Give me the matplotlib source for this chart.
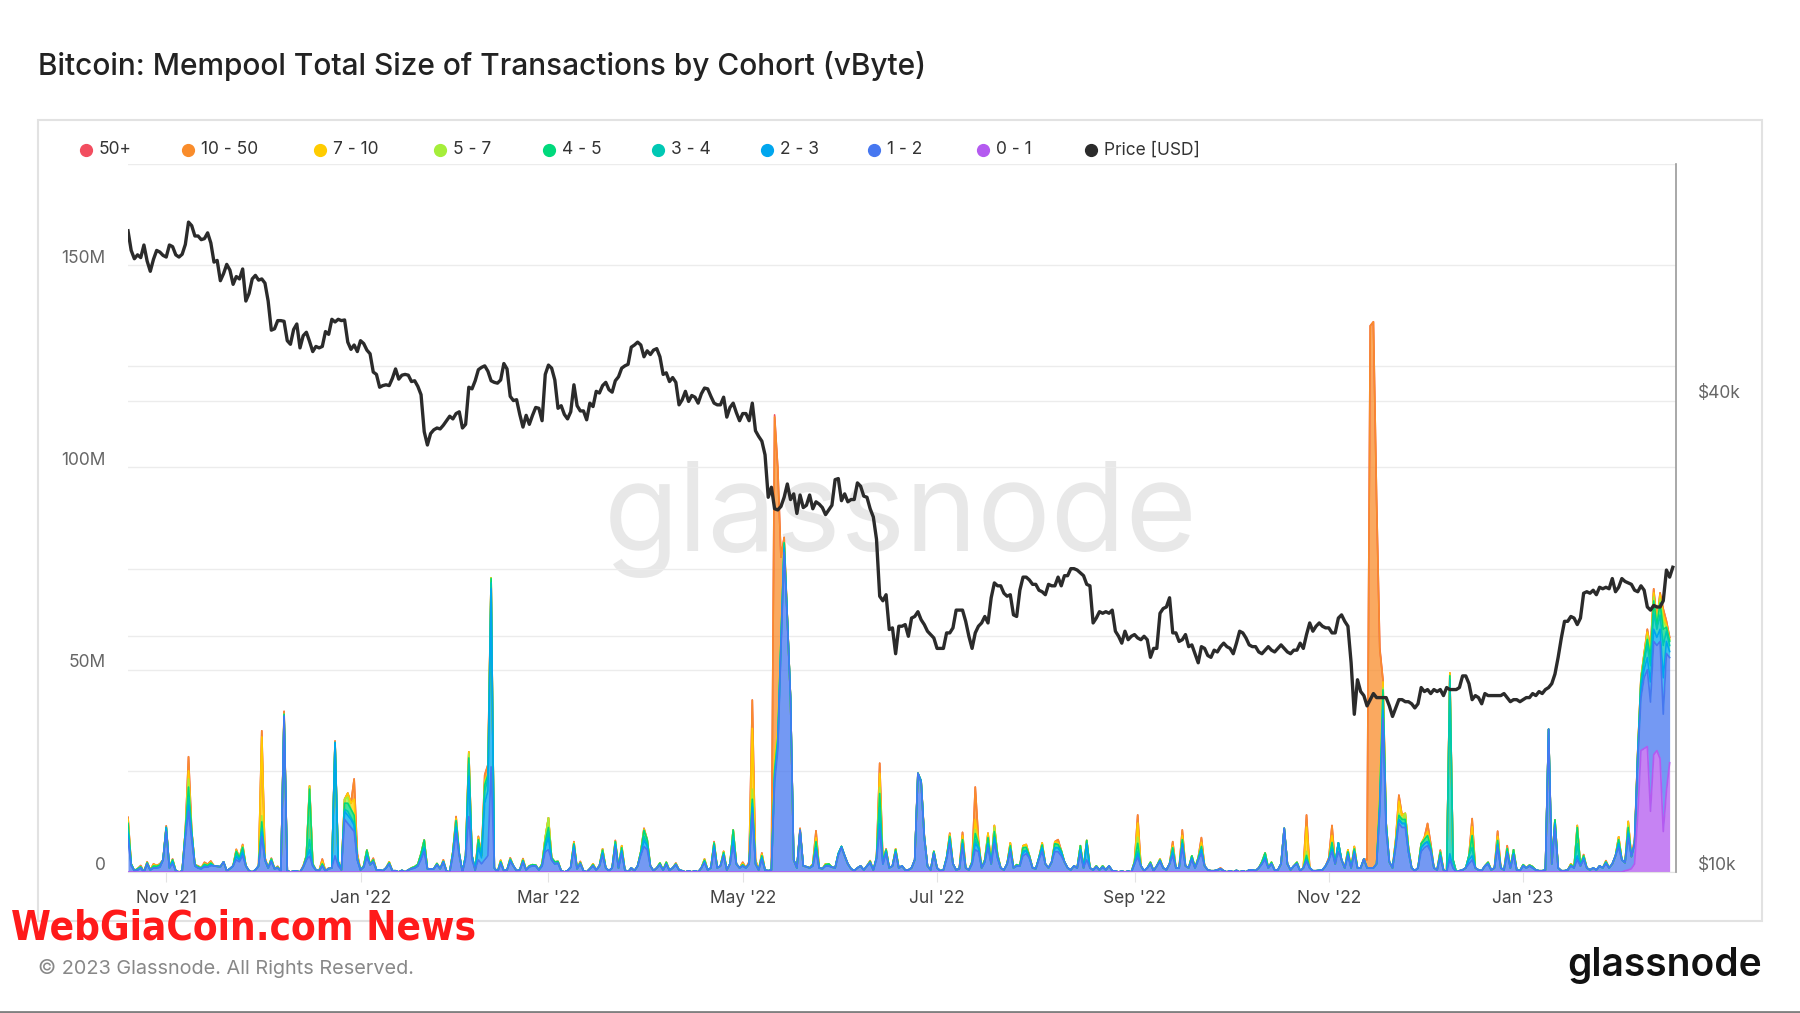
import numpy as np
import pandas as pd
import matplotlib
matplotlib.use('Agg')
import matplotlib.pyplot as plt
import matplotlib.dates as mdates
import matplotlib.transforms as mtrans
from matplotlib.lines import Line2D
from matplotlib.patches import Rectangle

plt.rcParams['font.family'] = ['Inter', 'DejaVu Sans']

# ---------------- price, USD thousands, daily closes ----------------
p_2021_10 = [65.9, 62.2, 60.7, 61.4, 60.9, 63.2, 60.3, 58.5, 60.6, 62.2, 61.9, 61.3]  # from Oct 20
p_2021_11 = [61.0, 63.2, 62.9, 61.4, 61.0, 61.5, 63.3, 67.6, 66.9, 64.9, 64.9, 64.2, 64.4, 65.5, 63.6,
             60.1, 60.4, 56.9, 58.1, 59.7, 58.7, 56.3, 57.6, 57.2, 58.9, 53.6, 54.8, 57.2, 57.8, 57.0]
p_2021_12 = [57.2, 56.5, 53.6, 49.2, 49.4, 50.6, 50.6, 50.5, 47.7, 47.2, 49.3, 50.1, 46.7, 48.4, 48.9,
             47.6, 46.2, 46.9, 46.7, 46.9, 49.0, 48.6, 50.8, 50.4, 50.8, 50.6, 50.7, 47.5, 46.5, 47.1, 46.2]
p_2022_01 = [47.7, 47.3, 46.4, 45.9, 43.5, 43.2, 41.6, 41.8, 41.9, 41.8, 42.7, 43.9, 42.6, 43.1, 43.2,
             43.1, 42.3, 42.4, 41.7, 40.7, 36.5, 35.1, 36.3, 36.7, 36.9, 36.8, 37.2, 37.7, 38.2, 37.9, 38.5]
p_2022_02 = [38.7, 36.9, 37.3, 41.6, 41.4, 42.4, 43.8, 44.1, 44.3, 43.6, 42.4, 42.2, 42.1, 42.5,
             44.6, 43.9, 40.5, 40.0, 40.1, 38.4, 37.0, 38.3, 37.3, 38.3, 39.2, 39.1, 37.7, 43.2]
p_2022_03 = [44.4, 44.0, 42.5, 39.1, 39.4, 38.4, 37.9, 38.7, 41.9, 39.4, 38.8, 38.8, 37.8, 39.7, 39.3,
             41.1, 40.9, 41.8, 42.2, 41.3, 41.0, 42.4, 42.9, 44.0, 44.3, 44.5, 46.8, 47.1, 47.5, 47.1, 45.5]
p_2022_04 = [46.3, 45.8, 46.4, 46.6, 45.5, 43.2, 43.4, 42.3, 42.8, 42.2, 39.5, 40.1, 41.1, 39.9, 40.6,
             40.4, 39.7, 40.8, 41.5, 41.4, 40.5, 39.7, 39.5, 39.5, 40.4, 38.1, 39.2, 39.7, 38.6, 37.7]
p_2022_05 = [38.5, 38.5, 37.7, 39.7, 36.6, 36.0, 35.5, 34.1, 30.1, 31.0, 29.1, 29.0, 29.3, 30.1, 31.3,
             29.9, 30.4, 28.7, 30.3, 29.2, 29.4, 30.3, 29.1, 29.7, 29.5, 29.2, 28.6, 29.0, 29.4, 31.7, 31.8]
p_2022_06 = [29.8, 30.4, 29.7, 29.9, 29.9, 31.4, 31.1, 30.2, 30.1, 29.1, 28.4, 26.6, 22.5, 22.2, 22.6,
             20.4, 20.5, 19.0, 20.6, 20.6, 20.7, 20.0, 21.1, 21.2, 21.5, 21.0, 20.7, 20.3, 20.1, 19.9]
p_2022_07 = [19.3, 19.3, 19.3, 20.2, 20.2, 20.5, 21.6, 21.6, 21.6, 20.9, 20.0, 19.3, 20.2, 20.6, 20.8,
             21.2, 20.8, 22.4, 23.4, 23.2, 23.2, 22.7, 22.5, 22.6, 21.3, 21.2, 22.9, 23.8, 23.8, 23.6, 23.3]
p_2022_08 = [23.3, 22.9, 22.8, 22.6, 23.3, 23.2, 23.2, 23.8, 23.2, 23.9, 23.9, 24.4, 24.4, 24.3, 24.1,
             23.9, 23.3, 23.2, 20.8, 21.1, 21.5, 21.4, 21.5, 21.4, 21.6, 20.3, 20.0, 19.6, 20.3, 19.8, 20.0]
p_2022_09 = [20.1, 19.9, 19.8, 20.0, 19.8, 18.8, 19.3, 19.3, 21.4, 21.7, 21.8, 22.4, 20.2, 20.2, 19.7,
             19.8, 20.1, 19.4, 19.5, 19.0, 18.5, 19.4, 19.3, 18.9, 18.8, 19.2, 19.1, 19.4, 19.6, 19.4]
p_2022_10 = [19.3, 19.0, 19.6, 20.3, 20.2, 19.9, 19.5, 19.4, 19.4, 19.1, 19.0, 19.2, 19.4, 19.2, 19.1,
             19.3, 19.5, 19.3, 19.1, 19.0, 19.2, 19.2, 19.6, 19.3, 20.1, 20.8, 20.3, 20.6, 20.8, 20.6, 20.5]
p_2022_11 = [20.5, 20.2, 20.2, 21.1, 21.3, 20.9, 20.6, 18.5, 15.9, 17.6, 17.0, 16.8, 16.3, 16.6, 16.9,
             16.7, 16.7, 16.7, 16.7, 16.3, 15.8, 16.2, 16.6, 16.6, 16.5, 16.5, 16.4, 16.2, 16.4, 17.2]
p_2022_12 = [17.0, 17.1, 16.9, 17.1, 17.0, 17.1, 16.8, 17.2, 17.1, 17.1, 17.1, 17.2, 17.8, 17.8, 17.4,
             16.6, 16.8, 16.7, 16.4, 16.9, 16.8, 16.8, 16.8, 16.8, 16.8, 16.9, 16.7, 16.5, 16.6, 16.6, 16.5]
p_2023_01 = [16.6, 16.7, 16.7, 16.9, 16.8, 17.0, 16.9, 17.1, 17.2, 17.4, 17.9, 18.8, 19.9, 20.9, 20.9,
             21.2, 21.1, 20.7, 21.1, 22.7, 22.8, 22.7, 22.9, 22.6, 23.1, 23.0, 23.1, 23.0, 23.7, 22.8, 23.1]
p_2023_02 = [23.7, 23.5, 23.4, 23.3, 22.9, 22.8, 23.2, 22.9, 21.8, 21.6, 21.9, 21.8, 21.8, 22.2,
             24.3, 23.8, 24.5]

price_months = [('2021-10-20', p_2021_10), ('2021-11-01', p_2021_11), ('2021-12-01', p_2021_12),
                ('2022-01-01', p_2022_01), ('2022-02-01', p_2022_02), ('2022-03-01', p_2022_03),
                ('2022-04-01', p_2022_04), ('2022-05-01', p_2022_05), ('2022-06-01', p_2022_06),
                ('2022-07-01', p_2022_07), ('2022-08-01', p_2022_08), ('2022-09-01', p_2022_09),
                ('2022-10-01', p_2022_10), ('2022-11-01', p_2022_11), ('2022-12-01', p_2022_12),
                ('2023-01-01', p_2023_01), ('2023-02-01', p_2023_02)]

# ---------------- mempool size by cohort, M vByte ----------------
# keys = days after 2021-11-01, days not listed are ~0
c_0_1 = {458: 0.3, 459: 0.5, 460: 0.8, 461: 2, 462: 14, 463: 30, 464: 30.5, 465: 31, 466: 15, 467: 29,
         468: 30, 469: 28, 470: 10, 471: 20, 472: 27}
c_1_2 = {-12: 8, -11: 1.5, -10: 0.3, -9: 0.5, -8: 1, -6: 2, -5: 0.5, -4: 1, -3: 1, -2: 1.2, -1: 3, 0: 10,
         1: 1, 2: 2, 3: 0.3, 5: 0.2, 6: 8, 7: 15, 8: 8, 9: 1.5, 10: 1, 11: 0.8, 12: 1.2, 13: 1.2, 14: 1.5,
         15: 1.5, 16: 1.4, 17: 1.3, 18: 2.5, 19: 0.3, 20: 0.8, 21: 1.5, 22: 3, 23: 2.5, 24: 4, 25: 1.5,
         26: 0.3, 28: 0.5, 29: 1.5, 30: 8.7, 31: 3, 32: 1, 33: 2.5, 34: 0.8, 35: 1, 36: 0.2, 37: 38.5,
         38: 0.3, 40: 0.2, 41: 0.2, 43: 1.2, 44: 3, 45: 3.9, 46: 1.5, 47: 0.5, 48: 0.3, 49: 1.5, 50: 0.3,
         51: 0.8, 52: 1, 53: 4, 54: 1.5, 55: 0.5, 56: 13, 57: 12, 58: 11, 59: 10, 60: 3, 61: 0.5, 62: 1.2,
         63: 3.5, 64: 1.8, 65: 2.5, 66: 0.5, 67: 0.5, 68: 0.3, 69: 1, 70: 2, 71: 0.3, 72: 0.3, 74: 0.4,
         76: 0.5, 77: 0.8, 78: 1, 79: 1.5, 80: 3, 81: 5, 82: 0.8, 83: 0.7, 84: 0.8, 85: 1.8, 86: 0.8,
         87: 2.3, 88: 0.2, 90: 4, 91: 9.6, 92: 4, 94: 3, 95: 13.7, 96: 3, 97: 0.5, 98: 3, 99: 2, 100: 3,
         101: 4, 102: 26, 103: 1, 105: 2, 106: 0.3, 107: 0.5, 108: 2.5, 109: 1.5, 110: 0.3, 111: 0.5,
         112: 2.3, 113: 0.5, 114: 1.3, 115: 1.5, 116: 1.5, 117: 0.5, 118: 1.5, 119: 5, 120: 5.5, 121: 3,
         122: 2, 123: 2.2, 124: 0.3, 126: 0.3, 127: 1.2, 128: 5.5, 129: 0.8, 130: 2, 131: 0.3, 133: 0.8,
         134: 1.5, 135: 0.5, 136: 1.5, 137: 4, 138: 1, 139: 0.3, 140: 1, 141: 6, 142: 1, 143: 4.5,
         144: 0.5, 146: 1, 147: 0.3, 148: 1.5, 149: 4, 150: 6.3, 151: 5.5, 152: 1.5, 153: 0.3, 154: 1,
         155: 1.8, 156: 0.5, 157: 1.9, 158: 0.4, 159: 1, 160: 1.8, 161: 0.5, 162: 0.3, 164: 0.3, 166: 0.3,
         168: 1, 169: 2.2, 170: 0.5, 171: 1, 172: 5.5, 173: 1, 174: 1.5, 175: 3.8, 176: 0.5, 177: 2,
         178: 6.3, 179: 2, 180: 1, 181: 1.5, 182: 1, 183: 2, 184: 14.5, 185: 2, 186: 0.5, 187: 3,
         188: 0.5, 189: 0.3, 190: 0.5, 191: 22, 192: 30, 193: 55, 194: 79, 195: 62, 196: 43, 197: 3,
         198: 1, 199: 10.3, 200: 1.5, 201: 1.3, 202: 1, 203: 1.5, 204: 5, 205: 1, 206: 0.8, 207: 1.5,
         208: 1.5, 209: 1.2, 210: 1, 211: 4, 212: 6, 213: 4, 214: 2, 215: 0.8, 216: 0.3, 217: 1,
         218: 1.5, 219: 0.5, 220: 1.5, 221: 2.3, 222: 0.5, 223: 3, 224: 10.4, 225: 2, 226: 4.5, 227: 1,
         228: 1.5, 229: 4.5, 230: 1, 231: 1.5, 232: 0.5, 233: 0.5, 234: 1, 235: 3, 236: 24.4, 237: 22,
         238: 8.5, 239: 1.5, 240: 0.5, 241: 4.5, 242: 1, 243: 0.3, 244: 0.5, 245: 3, 246: 7, 247: 2,
         248: 0.5, 249: 0.8, 250: 6, 251: 1, 252: 0.5, 253: 2, 254: 5.5, 255: 5, 256: 1, 257: 2.5, 258: 6,
         259: 2, 260: 7, 261: 3.5, 262: 1, 263: 0.5, 264: 2, 265: 5, 266: 1, 267: 1.5, 268: 1.5, 269: 4,
         270: 4.5, 271: 3.5, 272: 1, 273: 0.8, 274: 3, 275: 5, 276: 2, 277: 1, 278: 2.5, 279: 5, 280: 5,
         281: 4, 282: 2.5, 283: 1, 284: 0.5, 285: 1.5, 286: 1, 287: 4.5, 288: 1, 289: 3, 290: 1,
         291: 0.5, 292: 1.3, 293: 0.5, 294: 1.2, 295: 0.5, 296: 1.5, 297: 0.3, 298: 0.2, 300: 0.2,
         302: 0.2, 304: 2, 305: 3.6, 306: 1.5, 307: 0.3, 308: 1, 309: 2, 310: 0.3, 311: 1.5, 312: 2.5,
         313: 1, 314: 0.5, 315: 2, 316: 4, 317: 1, 318: 1, 319: 6, 320: 1.5, 321: 1, 322: 3, 323: 1,
         324: 3, 325: 4.5, 326: 1.5, 327: 0.5, 328: 0.3, 329: 0.3, 330: 0.5, 331: 0.8, 332: 0.3,
         334: 0.3, 336: 0.4, 338: 0.3, 340: 0.5, 341: 0.5, 342: 0.3, 343: 1, 344: 2, 345: 3, 346: 1,
         347: 2, 348: 0.5, 349: 0.5, 350: 2, 351: 10.8, 352: 2, 353: 0.5, 354: 1.5, 355: 2, 356: 0.3,
         357: 1, 358: 2.6, 359: 1, 360: 0.3, 361: 0.3, 362: 0.4, 363: 0.5, 364: 1.5, 365: 3, 366: 5,
         367: 2, 368: 5, 369: 3, 370: 1, 371: 4, 372: 1, 373: 4.5, 374: 1, 375: 1, 376: 3.2, 377: 1,
         378: 1, 379: 1, 380: 2, 381: 15, 382: 38, 383: 10, 384: 2.5, 385: 1, 386: 6, 387: 12, 388: 11,
         389: 11, 390: 5, 391: 1, 392: 0.3, 393: 1, 394: 5, 395: 6, 396: 6.5, 397: 5, 398: 1, 399: 0.5,
         400: 3.5, 401: 0.5, 403: 3, 404: 1, 406: 0.3, 407: 0.5, 408: 1, 409: 2, 410: 3, 411: 1,
         412: 0.5, 413: 0.3, 414: 1.5, 415: 2, 416: 0.5, 417: 1, 418: 6, 419: 1, 420: 0.5, 421: 4.5,
         422: 1, 423: 4, 424: 0.5, 425: 0.3, 426: 1.5, 427: 1, 428: 1.5, 429: 1, 430: 0.5, 431: 0.3,
         432: 0.3, 433: 0.5, 434: 35.3, 435: 2, 436: 11, 437: 1, 438: 0.3, 439: 0.3, 440: 0.5, 441: 1.5,
         442: 1, 443: 3, 444: 1.5, 445: 3, 446: 1, 447: 0.5, 448: 1, 449: 0.5, 450: 1.5, 451: 1, 452: 2,
         453: 1, 454: 2, 455: 4, 456: 6, 457: 3, 458: 2, 459: 8, 460: 3, 461: 5, 462: 14, 463: 13,
         464: 17.5, 465: 19, 466: 27, 467: 28, 468: 26, 469: 29, 470: 29, 471: 34, 472: 26}
c_2_3 = {-12: 1.5, -11: 0.3, 0: 1, 2: 0.5, 6: 1, 7: 1.5, 8: 1, 12: 0.3, 14: 0.3, 22: 0.8, 23: 0.5,
         24: 0.8, 30: 1.2, 33: 0.3, 45: 1.6, 53: 28, 54: 1, 56: 2, 57: 2, 58: 2, 59: 1.5, 63: 0.5, 80: 0.5,
         81: 0.8, 87: 0.3, 90: 0.5, 91: 1.5, 92: 0.5, 94: 1, 95: 10, 96: 1, 98: 3, 99: 1.5, 100: 14,
         101: 16, 102: 44, 105: 0.3, 108: 0.4, 112: 0.3, 119: 1, 120: 3, 128: 1, 137: 0.7, 141: 0.8,
         143: 0.7, 149: 0.5, 150: 1.5, 151: 1, 169: 0.3, 172: 1, 175: 0.5, 178: 1.5, 184: 1.5, 187: 0.5,
         191: 1, 192: 1, 193: 1, 194: 1, 195: 0.5, 204: 1, 211: 0.5, 212: 0.3, 223: 0.5, 224: 1.5,
         226: 0.5, 229: 0.5, 237: 0.5, 241: 0.3, 245: 0.5, 246: 0.8, 250: 1, 254: 1.5, 255: 1, 258: 1,
         260: 1.5, 265: 0.7, 269: 0.7, 270: 0.8, 274: 0.5, 275: 1, 279: 1, 280: 1, 281: 0.8, 287: 1,
         289: 4, 305: 1, 312: 0.3, 316: 0.8, 319: 1, 322: 0.5, 325: 1, 345: 0.5, 358: 0.4, 366: 0.5,
         368: 2.2, 371: 0.5, 373: 0.6, 381: 1, 382: 2, 383: 1, 386: 0.5, 387: 1, 388: 1, 389: 1, 394: 1,
         395: 1, 396: 1, 397: 0.5, 400: 0.6, 403: 1.5, 409: 1, 410: 1, 418: 0.8, 421: 0.5, 423: 0.5,
         436: 1, 443: 1, 445: 0.5, 452: 0.3, 456: 1, 459: 1, 462: 1, 463: 2, 464: 2, 465: 3, 466: 5,
         467: 3, 468: 2, 469: 3, 470: 9, 471: 3, 472: 1.5}
c_3_4 = {-12: 1, 7: 2, 8: 0.5, 22: 0.5, 24: 0.5, 30: 1, 45: 2.5, 56: 0.5, 57: 1, 58: 0.5, 59: 0.5, 63: 0.5,
         81: 0.5, 91: 0.8, 95: 3, 98: 1, 99: 0.5, 100: 3, 101: 3, 102: 1.5, 119: 0.5, 120: 1.5, 150: 1,
         151: 0.5, 178: 1, 184: 1, 191: 1, 192: 1, 193: 1, 194: 0.7, 224: 4, 246: 0.5, 254: 1, 269: 0.5,
         305: 0.5, 316: 0.5, 345: 0.5, 366: 0.8, 382: 2, 403: 43, 404: 2, 409: 1, 410: 2, 443: 3,
         459: 0.5, 463: 1.5, 464: 2, 465: 3, 466: 4, 467: 4, 468: 2, 469: 3.5, 470: 8, 471: 2.5, 472: 1.5}
c_4_5 = {-12: 1.5, -11: 0.2, -9: 0.3, -8: 0.3, -6: 0.3, -4: 0.5, -3: 0.4, -2: 0.5, 2: 0.5, 6: 1, 7: 2.5,
         8: 0.5, 9: 0.3, 10: 0.3, 11: 0.2, 12: 0.4, 13: 0.4, 14: 0.4, 22: 0.8, 23: 0.5, 24: 0.8, 30: 1.5,
         33: 0.4, 35: 0.2, 37: 0.5, 44: 1, 45: 12.5, 46: 0.5, 49: 0.5, 56: 1.5, 57: 2, 58: 2, 59: 2,
         60: 0.5, 62: 0.3, 63: 0.9, 65: 0.5, 70: 0.3, 77: 0.2, 78: 0.3, 79: 0.4, 80: 1, 81: 1.6, 85: 0.3,
         90: 0.5, 91: 0.8, 95: 1.5, 98: 1, 100: 1.5, 101: 1, 102: 1, 105: 0.3, 108: 0.3, 112: 0.3,
         114: 0.2, 115: 0.3, 116: 0.2, 118: 0.5, 119: 1, 120: 1, 121: 0.5, 122: 0.5, 123: 0.4, 128: 0.5,
         130: 0.3, 134: 0.3, 137: 0.7, 141: 0.7, 143: 0.8, 149: 0.5, 150: 1.5, 151: 1, 155: 0.4,
         157: 0.5, 160: 0.2, 169: 0.4, 172: 0.7, 175: 0.5, 178: 1.6, 181: 0.3, 184: 1, 187: 0.5, 191: 1,
         192: 1, 193: 0.5, 194: 0.7, 195: 0.3, 203: 0.3, 204: 1.5, 207: 0.3, 208: 0.5, 221: 0.3,
         224: 3.5, 225: 0.5, 226: 0.5, 229: 0.5, 238: 0.3, 241: 0.3, 246: 0.5, 250: 1, 253: 0.5,
         254: 1.5, 255: 1, 257: 0.5, 258: 1.5, 260: 1.5, 261: 0.8, 265: 0.8, 267: 0.3, 269: 0.8,
         270: 0.8, 271: 0.5, 275: 0.7, 279: 1, 280: 0.8, 281: 0.5, 287: 1, 289: 0.8, 292: 0.2, 294: 0.3,
         304: 0.5, 305: 2, 309: 0.4, 312: 0.2, 316: 0.7, 319: 1, 322: 0.5, 324: 0.5, 325: 0.8, 344: 0.5,
         345: 0.7, 347: 0.4, 355: 0.4, 358: 1.1, 366: 1, 371: 0.5, 373: 0.6, 381: 2, 382: 3, 383: 1,
         386: 0.5, 387: 1, 388: 1, 389: 1, 390: 1, 394: 1, 395: 1, 396: 1.5, 397: 0.7, 400: 0.8, 403: 1,
         410: 3, 415: 0.4, 418: 1, 421: 0.8, 423: 1, 426: 0.3, 428: 0.2, 429: 0.3, 436: 0.9, 441: 0.3,
         443: 4, 445: 0.5, 452: 0.2, 456: 1, 459: 1, 462: 0.5, 463: 0.7, 464: 1, 465: 1.5, 466: 2,
         467: 3, 468: 1, 469: 3, 470: 4, 471: 1, 472: 1}
c_5_7 = {7: 2, 30: 1.5, 45: 0.5, 56: 1, 57: 1.5, 95: 1, 100: 0.5, 102: 0.2, 119: 1, 120: 2.4, 184: 2.5,
         191: 0.5, 192: 0.5, 224: 1.5, 254: 1, 260: 1, 305: 1.5, 358: 1, 382: 0.5, 387: 0.5, 389: 1.5,
         459: 0.5, 463: 0.4, 464: 0.5, 465: 0.8, 466: 0.7, 467: 1, 469: 1, 470: 2, 472: 0.3}
c_7_10 = {-12: 1, -4: 0.3, -3: 0.2, 7: 2, 12: 0.2, 14: 0.2, 22: 0.3, 24: 0.4, 30: 19.5, 31: 0.5, 45: 0.3,
          49: 0.6, 57: 1, 58: 1.5, 59: 4, 60: 0.5, 70: 0.2, 87: 0.2, 91: 0.5, 95: 0.5, 98: 0.5, 100: 0.5,
          101: 0.5, 105: 0.3, 112: 0.2, 128: 0.3, 134: 0.2, 137: 0.3, 143: 0.5, 150: 0.3, 169: 0.3,
          175: 0.3, 181: 0.3, 184: 15, 185: 1, 187: 0.4, 191: 3, 192: 1.5, 193: 0.3, 204: 1, 207: 0.2,
          224: 3.5, 229: 0.2, 246: 0.5, 250: 1, 254: 2.5, 255: 0.5, 258: 1.1, 260: 0.5, 265: 0.7,
          269: 0.5, 270: 0.7, 275: 0.5, 279: 0.5, 280: 0.4, 305: 3.5, 312: 0.2, 316: 0.5, 319: 1, 325: 1,
          358: 6, 366: 1.7, 371: 0.5, 373: 0.6, 381: 2, 382: 1.5, 386: 1, 387: 3, 388: 1, 395: 0.5,
          396: 1, 403: 0.7, 410: 2.2, 418: 1, 441: 0.2, 443: 0.5, 456: 0.7, 459: 1, 462: 0.5, 463: 0.4,
          464: 0.5, 465: 1, 466: 0.7, 467: 1, 468: 0.5, 469: 1, 470: 1.5, 471: 0.5, 472: 0.3}
c_10_50 = {-12: 0.5, -8: 0.3, -6: 0.2, -4: 0.2, -2: 0.3, 0: 0.4, 2: 0.2, 7: 3.5, 8: 0.2, 10: 0.2, 12: 0.3,
           13: 0.3, 14: 0.3, 22: 0.2, 24: 0.3, 30: 1.5, 33: 0.2, 35: 0.2, 37: 0.7, 43: 0.3, 49: 0.6,
           51: 0.2, 53: 0.4, 59: 5, 60: 0.5, 65: 0.4, 87: 0.2, 91: 0.5, 98: 0.3, 100: 1.5, 101: 2,
           108: 0.3, 112: 0.2, 128: 0.2, 130: 0.3, 141: 0.3, 150: 0.2, 160: 0.2, 172: 0.3, 181: 0.3,
           183: 0.5, 184: 7, 187: 0.3, 191: 84, 192: 65, 193: 20, 194: 1.3, 199: 0.5, 203: 0.2, 204: 1.7,
           221: 0.2, 224: 2.5, 226: 0.2, 238: 0.2, 246: 0.3, 250: 0.8, 254: 8, 255: 0.5, 280: 0.8,
           305: 2, 316: 1, 319: 1.4, 325: 1.2, 331: 0.2, 358: 3, 365: 0.5, 366: 2.5, 377: 2, 378: 134,
           379: 135, 380: 90, 381: 35, 382: 0.5, 387: 1.5, 396: 2, 397: 0.8, 400: 0.5, 410: 2,
           418: 1.3, 421: 0.7, 445: 0.3, 452: 0.3, 461: 1, 465: 0.7, 466: 0.6, 467: 1, 468: 0.5,
           469: 0.5, 470: 1.5, 471: 1, 472: 0.4}
c_50p = {191: 0.5, 381: 0.5}

cohort_labels = ['0 - 1', '1 - 2', '2 - 3', '3 - 4', '4 - 5', '5 - 7', '7 - 10', '10 - 50', '50+']
cohort_colors = ['#b45af0', '#4677f0', '#00a6ee', '#00c8b4', '#00d97c', '#a5ee3a', '#ffcc00',
                 '#f98c2b', '#f24d5f']
cohort_data = [c_0_1, c_1_2, c_2_3, c_3_4, c_4_5, c_5_7, c_7_10, c_10_50, c_50p]

# ---------------- build series ----------------
base = pd.Timestamp('2021-11-01')
mp_days = np.arange(-12, 473)
mp_dates = base + pd.to_timedelta(mp_days, unit='D')

price_dates = []
price_vals = []
for start, vals in price_months:
    price_dates.extend(pd.date_range(start, periods=len(vals), freq='D'))
    price_vals.extend(v * 1000 for v in vals)

# ---------------- figure ----------------
W, H = 1800, 1013
fig = plt.figure(figsize=(W / 100, H / 100), dpi=100)
fig.patch.set_facecolor('white')

def fx(px):
    return px / W

def fy(py):
    return 1 - py / H

ax = fig.add_axes([fx(128), fy(872), fx(1676) - fx(128), fy(164) - fy(872)])
ax2 = ax.twinx()

# watermark
ax.text(fx(901), fy(520), 'glassnode', transform=fig.transFigure, fontsize=88, color='#e8e8e8',
        ha='center', va='center', zorder=0.5)

stack = np.zeros(len(mp_days))
tops = []
for data, col in zip(cohort_data, cohort_colors):
    vals = np.array([data.get(int(d), 0.0) for d in mp_days]) * 1e6
    lower = stack.copy()
    stack = stack + vals
    ax.fill_between(mp_dates, lower, stack, color=col, alpha=0.75, lw=0, zorder=2)
    tops.append((stack.copy(), col))
for top, col in reversed(tops):
    ax.plot(mp_dates, top, color=col, lw=1.2, zorder=3)

ax.set_xlim(pd.Timestamp('2021-10-20'), pd.Timestamp('2023-02-18'))
ax.set_ylim(0, 175e6)
ax.set_yticks(np.arange(0, 175e6 + 1, 25e6))
ax.set_yticklabels(['0', '', '50M', '', '100M', '', '150M', ''])
ax.grid(axis='y', color='#ececec', lw=1, zorder=0)
ax.set_axisbelow(True)
ax.tick_params(axis='y', length=0, pad=16, labelsize=12.5, labelcolor='#666666')

ax.xaxis.set_major_locator(mdates.MonthLocator(bymonth=[1, 3, 5, 7, 9, 11]))
ax.xaxis.set_major_formatter(mdates.DateFormatter("%b '%y"))
ax.tick_params(axis='x', length=7, color='#e3e3e3', labelsize=12.5, labelcolor='#444444', pad=6)

for s in ['top', 'left', 'right']:
    ax.spines[s].set_visible(False)
ax.spines['bottom'].set_color('#e3e3e3')

# price axis
ax2.plot(price_dates, price_vals, color='#2b2b2b', lw=2.4, zorder=5)
ax2.set_yscale('log')
ax2.set_ylim(10000, 80200)
ax2.set_yticks([10000, 20000, 40000])
ax2.set_yticklabels(['$10k', '', '$40k'])
ax2.yaxis.set_minor_locator(matplotlib.ticker.NullLocator())
ax2.tick_params(axis='y', length=0, pad=16, labelsize=12.5, labelcolor='#666666')
for s in ['top', 'left', 'bottom']:
    ax2.spines[s].set_visible(False)
ax2.spines['right'].set_color('#9a9a9a')
ax2.spines['right'].set_linewidth(1.2)

# price gridlines drawn under the areas
for v in [20000, 40000]:
    ax.add_line(Line2D([0, 1], [v, v], transform=ax2.get_yaxis_transform(), color='#ececec', lw=1,
                       zorder=0.6))

# lift y labels a little above their gridlines
lift = mtrans.ScaledTranslation(0, 9 / 100, fig.dpi_scale_trans)
for a in (ax, ax2):
    for t in a.yaxis.get_major_ticks():
        t.label1.set_transform(t.label1.get_transform() + lift)
        t.label2.set_transform(t.label2.get_transform() + lift)

# panel border
fig.add_artist(Rectangle((fx(38), fy(921)), fx(1762) - fx(38), fy(120) - fy(921), transform=fig.transFigure,
                         fill=False, ec='#e2e2e2', lw=1.5))

# legend
leg_labels = cohort_labels[::-1] + ['Price [USD]']
leg_colors = cohort_colors[::-1] + ['#2b2b2b']
leg_x = [86, 188, 320, 440, 549, 658, 767, 874, 983, 1091]
for x, lab, col in zip(leg_x, leg_labels, leg_colors):
    fig.add_artist(Line2D([fx(x)], [fy(150)], marker='o', ms=8.5, color=col, mec=col,
                          transform=fig.transFigure))
    fig.text(fx(x + 13), fy(150), lab, fontsize=12.5, color='#333333', va='center', ha='left')

# title and footer
fig.text(fx(38), fy(66), 'Bitcoin: Mempool Total Size of Transactions by Cohort (vByte)',
         fontsize=21.5, fontweight='medium', color='#222222', va='center', ha='left')
fig.text(fx(38), fy(968), '© 2023 Glassnode. All Rights Reserved.', fontsize=14.3, color='#888888',
         va='center', ha='left')
fig.text(fx(1762), fy(965), 'glassnode', fontsize=28, fontweight='semibold', color='#111111',
         va='center', ha='right')
fig.text(fx(11), fy(928), 'WebGiaCoin.com News', fontsize=29, fontweight='heavy', fontstretch='condensed',
         color='#ff1a1a', family=['Liberation Sans Narrow', 'DejaVu Sans'], va='center', ha='left')
fig.add_artist(Line2D([0, 1], [fy(1011.5), fy(1011.5)], transform=fig.transFigure, color='#808080', lw=2))

fig.savefig('out.png', dpi=100)
